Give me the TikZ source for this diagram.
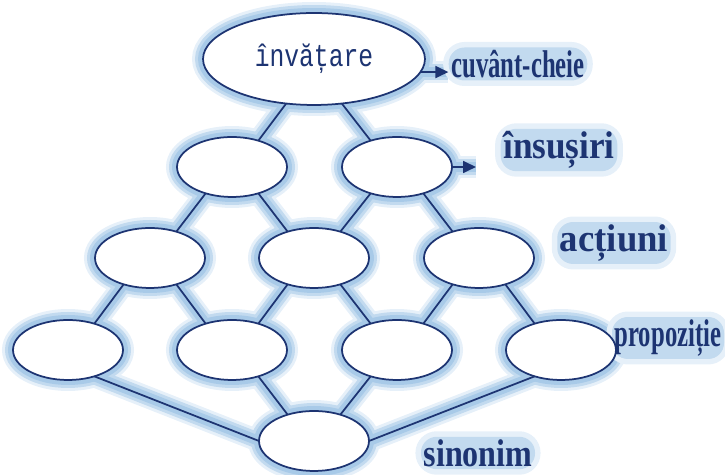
\documentclass[tikz,border=0pt]{standalone}
\usepackage{graphicx}
\usepackage{fontspec}
\setmainfont{Liberation Serif}
\newfontfamily\monofam{Liberation Mono}
\usetikzlibrary{calc,arrows.meta,shapes.geometric}

\definecolor{ovNavy}{HTML}{1D3472}
\definecolor{ovGlow}{HTML}{A8CAE8}
\definecolor{ovMist}{HTML}{C2DAEF}
\definecolor{ovHaze}{HTML}{E6F0F9}

\pgfdeclarelayer{glow}
\pgfsetlayers{glow,main}

\newcommand{\squeezed}[2]{\scalebox{#1}[1]{#2}}

\tikzset{
  oval/.style={ellipse, draw=ovNavy, fill=white, line width=0.035cm, inner sep=0pt, outer sep=0pt,
    minimum width=2.2cm, minimum height=1.2cm},
  link/.style={draw=ovNavy, line width=0.035cm},
  pointer/.style={link, -{Triangle[length=0.26cm,width=0.24cm]}},
  tag/.style={text=ovNavy, font=\fontsize{22}{24}\selectfont\bfseries, fill=ovMist, rounded corners=9pt,
    inner sep=1.5pt, preaction={draw=ovHaze, line width=0.22cm}},
}

\begin{document}
\begin{tikzpicture}[x=0.02cm,y=-0.02cm]
  \useasboundingbox (0,0) rectangle (725,475);

  % level names on the right
  \node[tag] (kw) at (518,64) {\squeezed{0.64}{cuvânt-cheie}};
  \node[tag] (trait) at (559,150) {\squeezed{0.91}{însușiri}};
  \node[tag] (act) at (614,243) {\squeezed{0.95}{acțiuni}};
  \node[tag] (prop) at (668,338) {\squeezed{0.64}{propoziție}};
  \node[tag] (syn) at (478,453) {\squeezed{0.83}{sinonim}};

  % the ovals, row by row
  \node[oval, minimum width=4.44cm, minimum height=1.84cm, text=ovNavy,
    font=\monofam\fontsize{18}{20}\selectfont] (t) at (314,59) {\squeezed{0.78}{învățare}};
  \node[oval] (a1) at (232,167) {};
  \node[oval] (a2) at (397,167) {};
  \node[oval] (b1) at (150,258) {};
  \node[oval] (b2) at (314,258) {};
  \node[oval] (b3) at (479,258) {};
  \node[oval] (c1) at (68,350) {};
  \node[oval] (c2) at (232,350) {};
  \node[oval] (c3) at (397,350) {};
  \node[oval] (c4) at (561,350) {};
  \node[oval] (s) at (314,441) {};
  \coordinate (tip) at (476,167);

  \def\links{t.238/a1.45, t.302/a2.135,
    a1.225/b1.45, a1.315/b2.135, a2.225/b2.45, a2.315/b3.135,
    b1.225/c1.45, b1.315/c2.135, b2.225/c2.45, b2.315/c3.135, b3.225/c3.45, b3.315/c4.135,
    c1.315/s.west, c2.315/s.135, c3.225/s.45, c4.225/s.east}

  \foreach \ea/\eb in \links
    \draw[link] (\ea) -- (\eb);
  \draw[pointer] (t.353) -- (t.353 -| kw.west);
  \draw[pointer] (a2.east) -- (tip);

  % soft blue halo under lines and ovals
  \begin{pgfonlayer}{glow}
    \foreach \lw/\col in {0.44/ovHaze, 0.32/ovMist, 0.2/ovGlow}{
      \foreach \ea/\eb in \links
        \draw[\col, line width=\lw cm] (\ea) -- (\eb);
      \draw[\col, line width=\lw cm] (t.353) -- (t.353 -| kw.west);
      \draw[\col, line width=\lw cm] (a2.east) -- (tip);
      \foreach \nd in {t,a1,a2,b1,b2,b3,c1,c2,c3,c4,s}
        \draw[\col, line width=\lw cm]
          let \p1=($(\nd.east)-(\nd.center)$), \p2=($(\nd.north)-(\nd.center)$) in
          (\nd.center) ellipse [x radius=\x1, y radius=\y2];
    }
  \end{pgfonlayer}
\end{tikzpicture}
\end{document}
